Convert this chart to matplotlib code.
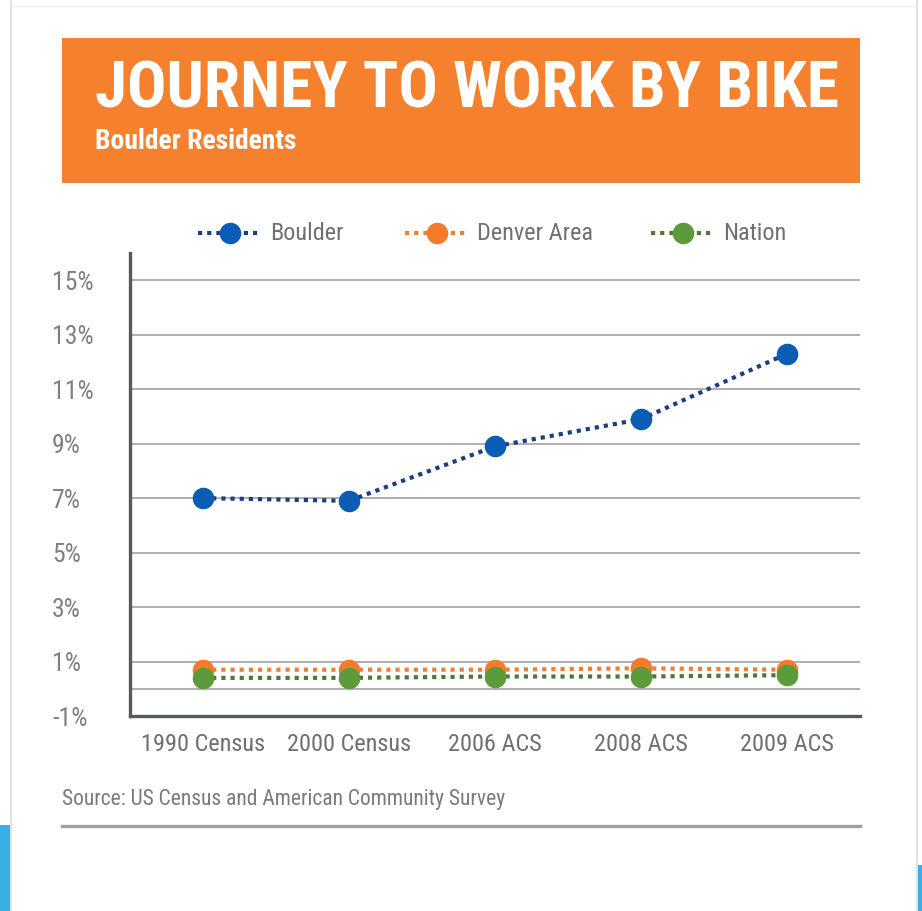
import matplotlib
matplotlib.use('Agg')
import matplotlib.pyplot as plt
from matplotlib import font_manager
from matplotlib.patches import Rectangle
from matplotlib.lines import Line2D

# data
years = ['1990 Census', '2000 Census', '2006 ACS', '2008 ACS', '2009 ACS']
boulder = [7.0, 6.9, 8.9, 9.9, 12.3]
denver = [0.7, 0.7, 0.7, 0.75, 0.7]
nation = [0.4, 0.4, 0.45, 0.45, 0.5]
series_names = ['Boulder', 'Denver Area', 'Nation']
ytick_vals = [-1, 1, 3, 5, 7, 9, 11, 13, 15]

W, H = 922, 911


def pick_font(bold):
    # look for a condensed / narrow face, fall back to DejaVu Sans
    wanted = ['RobotoCondensed', 'OpenSans-Cond', 'OpenSansCondensed',
              'LiberationSansNarrow', 'DejaVuSansCondensed']
    files = [f.fname for f in font_manager.fontManager.ttflist]
    for w in wanted:
        for fn in files:
            base = fn.split('/')[-1]
            if w.lower() in base.lower().replace(' ', ''):
                isbold = 'bold' in base.lower()
                if isbold == bold and 'italic' not in base.lower() and 'oblique' not in base.lower():
                    return font_manager.FontProperties(fname=fn)
    return font_manager.FontProperties(family='DejaVu Sans', weight='bold' if bold else 'normal')


fb = pick_font(True)
fr = pick_font(False)


def fx(x):
    return x / W


def fy(y):
    return 1 - y / H


fig = plt.figure(figsize=(W / 100, H / 100), dpi=100)
fig.patch.set_facecolor('white')

# page frame bits
fig.add_artist(Line2D([fx(11), fx(11)], [0, 1], color='#d8dde0', lw=1.2))
fig.add_artist(Line2D([fx(917), fx(917)], [0, 1], color='#d8dde0', lw=1.2))
fig.add_artist(Line2D([fx(11), fx(917)], [fy(6), fy(6)], color='#eceff1', lw=1))
fig.add_artist(Rectangle((0, 0), fx(10), fy(825), transform=fig.transFigure,
                         color='#38b0e3', lw=0))
fig.add_artist(Rectangle((fx(918), 0), fx(4), fy(865), transform=fig.transFigure,
                         color='#38b0e3', lw=0))

# orange banner
fig.add_artist(Rectangle((fx(62), fy(183)), fx(860) - fx(62), fy(38) - fy(183),
                         transform=fig.transFigure, color='#f5812f', lw=0))

title = fig.text(fx(95), fy(107), 'JOURNEY TO WORK BY BIKE', fontproperties=fb,
                 color='white', fontsize=50, ha='left', va='baseline')
sub = fig.text(fx(95), fy(149), 'Boulder Residents', fontproperties=fb,
               color='white', fontsize=17, ha='left', va='baseline')

# fit title / subtitle widths to the banner
fig.canvas.draw()
r = fig.canvas.get_renderer()
for t, target in [(title, 745), (sub, 202)]:
    w = t.get_window_extent(r).width
    t.set_fontsize(t.get_fontsize() * target / w)

ax = fig.add_axes([fx(130), fy(716), fx(860) - fx(130), fy(253) - fy(716)])
x = list(range(len(years)))

cols = {'Boulder': ('#0b5cb5', '#1b3f7e'),
        'Denver Area': ('#f47b2a', '#e9813a'),
        'Nation': ('#5c9b3c', '#4c7a36')}
data = {'Boulder': boulder, 'Denver Area': denver, 'Nation': nation}

for i, name in enumerate(series_names):
    mc, lc = cols[name]
    ax.plot(x, data[name], color=lc, lw=3, linestyle=(0, (1, 1.2)), zorder=3 + i)
    ax.plot(x, data[name], 'o', color=mc, ms=14.5, mec=mc, zorder=3 + i)

ax.set_xlim(-0.5, 4.5)
ax.set_ylim(-1, 16)
ax.set_yticks(ytick_vals)
ax.set_yticklabels(['%d%%' % v for v in ytick_vals])
ax.set_yticks([0], minor=True)
ax.grid(axis='y', which='both', color='#a9a9a9', lw=1.3, zorder=1)
ax.tick_params(axis='y', which='both', length=0, pad=56)
ax.set_xticks(x)
ax.set_xticklabels(years)
ax.tick_params(axis='x', length=0, pad=12)
for lab in ax.get_yticklabels():
    lab.set_ha('left')
    lab.set_fontproperties(fr)
    lab.set_fontsize(18.5)
    lab.set_color('#808080')
for lab in ax.get_xticklabels():
    lab.set_fontproperties(fr)
    lab.set_fontsize(17.5)
    lab.set_color('#6f6f6f')

for s in ['top', 'right']:
    ax.spines[s].set_visible(False)
for s in ['left', 'bottom']:
    ax.spines[s].set_color('#555a5e')
    ax.spines[s].set_linewidth(2.4)
ax.spines['left'].set_zorder(6)

# legend row drawn by hand in figure coords
leg_y = fy(233)
leg_x = [230, 437, 683]
for name, cx in zip(series_names, leg_x):
    mc, lc = cols[name]
    fig.add_artist(Line2D([fx(cx - 32), fx(cx + 32)], [leg_y, leg_y], color=lc, lw=3,
                          linestyle=(0, (1, 1.2))))
    fig.add_artist(Line2D([fx(cx)], [leg_y], marker='o', color=mc, ms=14.5, lw=0))
    fig.text(fx(cx + 40), leg_y, name, fontproperties=fr, fontsize=17.5, color='#707070',
             ha='left', va='center')

fig.text(fx(62), fy(800), 'Source: US Census and American Community Survey', fontproperties=fr,
         fontsize=15.5, color='#7a7a7a', ha='left', va='center')
fig.add_artist(Line2D([fx(62), fx(860)], [fy(826), fy(826)], color='#a0a0a0', lw=2.4))

fig.savefig('out.png', dpi=100, facecolor='white')
